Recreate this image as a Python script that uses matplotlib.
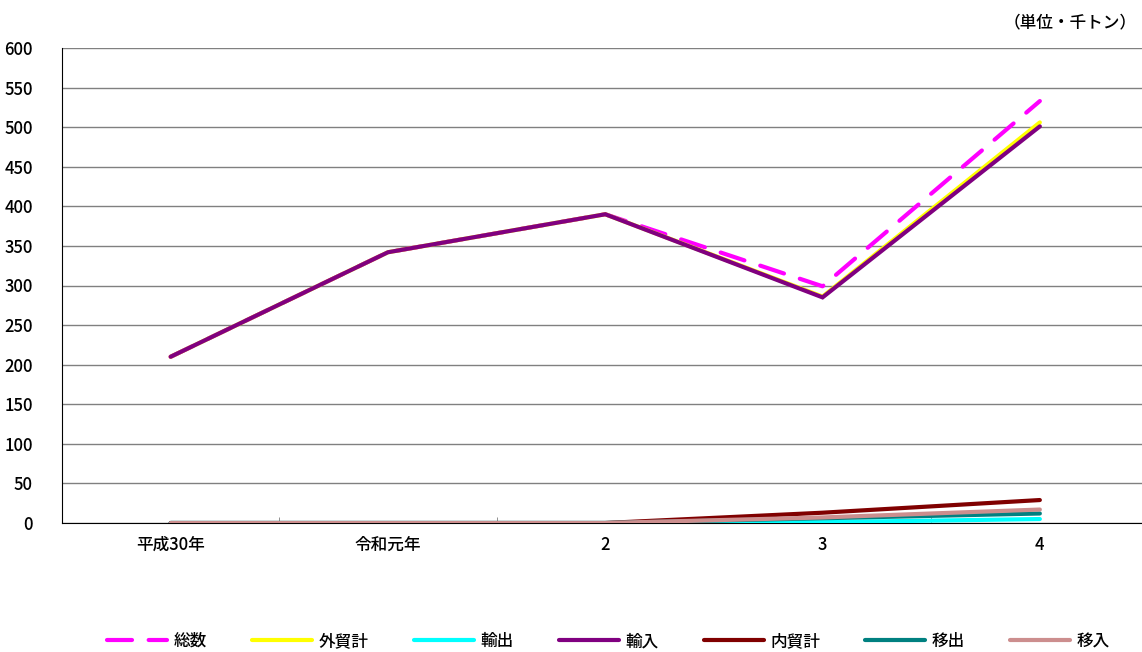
import matplotlib
matplotlib.use("Agg")
import matplotlib.pyplot as plt
from matplotlib.ticker import FixedLocator

plt.rcParams['font.family'] = ['Noto Sans CJK JP', 'DejaVu Sans']
plt.rcParams['font.weight'] = 'medium'

categories = ['平成30年', '令和元年', '2', '3', '4']
series_names = ['総数', '外貿計', '輸出', '輸入', '内貿計', '移出', '移入']
total = [210, 342, 390, 299, 533]
foreign = [210, 342, 390, 286, 506]
exports = [0, 0, 0, 1, 5]
imports = [210, 342, 390, 285, 501]
domestic = [0, 0, 0, 13, 29]
ship_out = [0, 0, 0, 6, 12]
ship_in = [0, 0, 0, 7, 17]
yticks = list(range(0, 601, 50))
unit_label = '（単位・千トン）'

data = [total, foreign, exports, imports, domestic, ship_out, ship_in]
colors = ['#FF00FF', '#FFFF00', '#00FFFF', '#800080', '#800000', '#008080', '#CC8E8E']

fig = plt.figure(figsize=(11.42, 6.52), dpi=100)
ax = fig.add_axes([62/1142, 1-523/652, (1148.5-62)/1142, (523-48)/652])

x = list(range(len(categories)))
handles = []
for name, vals, c in zip(series_names, data, colors):
    if name == '総数':
        h, = ax.plot(x, vals, color=c, lw=3, linestyle=(0, (6, 4)), dash_capstyle='round', label=name, zorder=3)
    else:
        h, = ax.plot(x, vals, color=c, lw=3, solid_capstyle='round', solid_joinstyle='miter', label=name, zorder=3)
    handles.append(h)

ax.set_xlim(-0.5, len(categories) - 0.5)
ax.set_ylim(0, 600)
ax.set_yticks(yticks)
ax.set_yticklabels([str(v) for v in yticks], fontsize=12)
ax.set_xticks(x)
ax.set_xticklabels(categories, fontsize=12)
ax.xaxis.set_minor_locator(FixedLocator([i + 0.5 for i in range(-1, len(categories))]))
ax.tick_params(axis='x', which='major', length=0, pad=9)
ax.tick_params(axis='x', which='minor', length=4, direction='in', color='#808080')
ax.tick_params(axis='y', length=0, pad=21)

ax.grid(axis='y', color='#808080', lw=1)
ax.set_axisbelow(True)
for s in ['top', 'right']:
    ax.spines[s].set_visible(False)
ax.spines['left'].set_color('black')
ax.spines['bottom'].set_color('black')

fig.text(1137/1142, 1-22/652, unit_label, ha='right', va='center', fontsize=12)

fig.legend(handles=handles, loc='center', bbox_to_anchor=(0.533, 1-641/652), ncol=7,
           frameon=False, fontsize=12, handlelength=3.6, columnspacing=2.7, handletextpad=0.4)

fig.savefig('out.png', dpi=100)
